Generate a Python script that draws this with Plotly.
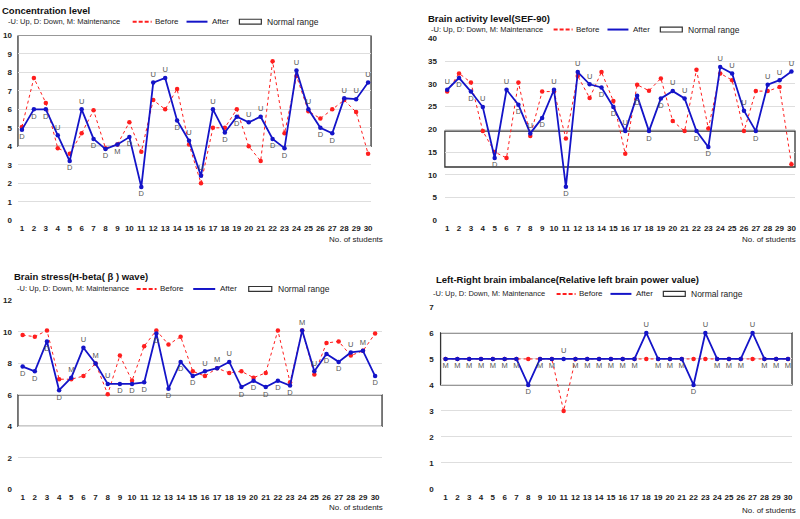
import plotly.graph_objects as go

W, H = 800, 519
students = list(range(1, 31))
student_labels = [str(s) for s in students]

# ---- Panel 1: Concentration level ----
conc_before = [5.05, 7.7, 6.35, 3.9, 3.6, 4.7, 5.95, 3.9, 4.1, 5.3, 3.7, 6.5, 6.0, 7.1, 4.1,
               2.0, 5.0, 5.0, 6.0, 4.0, 3.2, 8.6, 4.7, 7.8, 5.9, 5.5, 6.0, 6.5, 5.85, 3.6]
conc_after = [4.9, 6.0, 6.0, 4.6, 3.2, 6.0, 4.4, 3.85, 4.1, 4.5, 1.8, 7.45, 7.7, 5.4, 4.3,
              2.4, 6.0, 4.75, 5.6, 5.3, 5.6, 4.4, 3.9, 8.1, 6.0, 5.0, 4.7, 6.6, 6.55, 7.45]
conc_change = ["D", "D", "D", "U", "D", "U", "D", "D", "M", "D", "D", "U", "U", "D", "U",
               "U", "U", "D", "D", "U", "U", "D", "D", "U", "U", "D", "D", "U", "U", "U"]
conc_normal = [4, 10]

# ---- Panel 2: Brain activity level (SEF-90) ----
act_before = [28.3, 32.3, 30.3, 19.6, 15.0, 13.7, 30.3, 18.5, 28.3, 28.3, 18.0, 31.7, 26.9, 32.6, 26.2,
              14.6, 29.8, 28.5, 31.2, 21.8, 19.6, 33.1, 20.2, 32.3, 30.8, 19.6, 28.4, 28.4, 29.3, 12.3]
act_after = [28.7, 31.3, 28.3, 24.9, 13.7, 28.7, 25.4, 19.1, 22.5, 28.7, 7.35, 32.6, 29.9, 29.2, 24.9,
             19.6, 27.4, 19.6, 26.8, 28.4, 26.8, 19.6, 16.1, 33.7, 32.3, 24.1, 19.6, 29.8, 30.8, 32.7]
act_change = ["U", "D", "D", "U", "D", "U", "D", "U", "D", "U", "D", "U", "U", "D", "D",
              "U", "D", "D", "D", "U", "U", "D", "D", "U", "U", "U", "D", "U", "U", "U"]
act_normal = [11.7, 19.6]

# ---- Panel 3: Brain stress (H-beta) ----
stress_before = [9.8, 9.7, 10.1, 7.0, 7.0, 7.2, 8.0, 6.05, 8.5, 6.9, 9.1, 10.1, 9.2, 9.7, 7.5,
                 7.2, 7.7, 7.4, 7.5, 7.1, 7.4, 10.1, 6.8, 10.1, 7.3, 9.3, 9.4, 8.5, 8.8, 9.9]
stress_after = [7.8, 7.5, 9.4, 6.3, 7.1, 9.0, 8.0, 6.7, 6.7, 6.7, 6.8, 9.9, 6.4, 8.1, 7.2,
                7.5, 7.7, 8.1, 6.5, 6.9, 6.5, 6.9, 6.6, 10.1, 7.5, 8.6, 8.1, 8.7, 8.8, 7.2]
stress_change = ["D", "D", "D", "D", "M", "U", "M", "U", "D", "D", "D", "D", "D", "D", "D",
                 "U", "M", "U", "D", "D", "D", "D", "D", "M", "U", "D", "D", "U", "M", "D"]
stress_normal = [4, 6]

# ---- Panel 4: Left-right brain imbalance ----
lr_before = [5, 5, 5, 5, 5, 5, 5, 5, 5, 5, 3, 5, 5, 5, 5,
             5, 5, 5, 5, 5, 5, 5, 5, 5, 5, 5, 5, 5, 5, 5]
lr_after = [5, 5, 5, 5, 5, 5, 5, 4, 5, 5, 5, 5, 5, 5, 5,
            5, 5, 6, 5, 5, 5, 4, 6, 5, 5, 5, 6, 5, 5, 5]
lr_change = ["M", "M", "M", "M", "M", "M", "M", "D", "M", "M", "U", "M", "M", "M", "M",
             "M", "M", "U", "M", "M", "M", "D", "U", "M", "M", "M", "U", "M", "M", "M"]
lr_normal = [4, 6]

titles = ["Concentration level", "Brain activity level(SEF-90)",
          "Brain stress(H-beta( \u03b2 ) wave)",
          "Left-Right brain imbalance(Relative left brain power value)"]
subtitle = "-U: Up, D: Down, M: Maintenance"
xlabel = "No. of students"

FONT = "Liberation Sans, Arial, sans-serif"
RED = "#ff1e1e"
BLUE = "#1414c8"


def fx(px):
    return px / W


def fy(py):
    return 1 - py / H


panels = [
    dict(before=conc_before, after=conc_after, change=conc_change, normal=conc_normal,
         xd=(18, 372), yd=(220, 32), xr=(0.666, 30.25), yr=(0, 10), dtick=1, ys=5,
         title=(0, 7), sub=(6, 18), leg=(133, 18, 1.0), xl=(386, 240), mtop=False),
    dict(before=act_before, after=act_after, change=act_change, normal=act_normal,
         xd=(446, 797), yd=(220, 35), xr=(0.807, 30.3), yr=(0, 40), dtick=5, ys=7,
         title=(427, 15), sub=(430, 26), leg=(555, 26, 1.0), xl=(800, 240), mtop=False),
    dict(before=stress_before, after=stress_after, change=stress_change, normal=stress_normal,
         xd=(18, 383), yd=(494, 301.7), xr=(0.614, 30.57), yr=(0, 12), dtick=2, ys=5,
         title=(12, 277), sub=(15, 290), leg=(137, 290, 1.05), xl=(386, 512), mtop=True),
    dict(before=lr_before, after=lr_after, change=lr_change, normal=lr_normal,
         xd=(441.7, 794), yd=(493.5, 308.3), xr=(0.578, 30.34), yr=(0, 7), dtick=1, ys=6,
         title=(435, 280), sub=(432, 295), leg=(558, 295, 1.0), xl=(800, 515), mtop=False),
]

fig = go.Figure()
shapes = []
annotations = []
layout_axes = {}

for i, p in enumerate(panels):
    n = "" if i == 0 else str(i + 1)
    xref, yref = "x" + n, "y" + n
    pos = []
    for c in p["change"]:
        if c == "U":
            pos.append("top center")
        elif c == "M" and p["mtop"]:
            pos.append("top center")
        else:
            pos.append("bottom center")
    fig.add_trace(go.Scatter(
        x=students, y=p["before"], mode="lines+markers", xaxis=xref, yaxis=yref,
        line=dict(color=RED, width=1, dash="dot"), marker=dict(color=RED, size=4.5),
        showlegend=False, hoverinfo="skip"))
    fig.add_trace(go.Scatter(
        x=students, y=p["after"], mode="lines+markers+text", xaxis=xref, yaxis=yref,
        line=dict(color=BLUE, width=1.8), marker=dict(color=BLUE, size=4.5),
        text=p["change"], textposition=pos,
        textfont=dict(family=FONT, size=7.5, color="#555555"),
        showlegend=False, hoverinfo="skip"))

    layout_axes["xaxis" + n] = dict(
        domain=[fx(p["xd"][0]), fx(p["xd"][1])], range=list(p["xr"]), anchor=yref,
        tickmode="array", tickvals=students, ticktext=student_labels, tickangle=0,
        showgrid=False, zeroline=False, showline=False, ticks="", ticklabelstandoff=2,
        tickfont=dict(family=FONT, size=8, color="#222222", weight="bold"), fixedrange=True)
    layout_axes["yaxis" + n] = dict(
        domain=[fy(p["yd"][0]), fy(p["yd"][1])], range=list(p["yr"]), anchor=xref,
        dtick=p["dtick"], showgrid=True, gridcolor="#dedede", gridwidth=1.2,
        zeroline=False, showline=False, ticks="", ticklabelstandoff=p["ys"],
        tickfont=dict(family=FONT, size=8, color="#222222", weight="bold"), fixedrange=True)

    # normal range box
    shapes.append(dict(type="rect", xref=xref + " domain", yref=yref,
                       x0=0, x1=1, y0=p["normal"][0], y1=p["normal"][1],
                       line=dict(color="#333333", width=1.3),
                       fillcolor="rgba(0,0,0,0)", layer="below"))

    # title and subtitle
    tx, ty = p["title"]
    annotations.append(dict(xref="paper", yref="paper", x=fx(tx), y=fy(ty), xanchor="left",
                            yanchor="middle", showarrow=False, text="<b>" + titles[i] + "</b>",
                            font=dict(family=FONT, size=9.5, color="#111111")))
    sx, sy = p["sub"]
    annotations.append(dict(xref="paper", yref="paper", x=fx(sx), y=fy(sy), xanchor="left",
                            yanchor="middle", showarrow=False, text=subtitle,
                            font=dict(family=FONT, size=7.5, color="#222222")))
    # x axis title
    lx, ly = p["xl"]
    annotations.append(dict(xref="paper", yref="paper", x=fx(lx), y=fy(ly), xanchor="right",
                            yanchor="middle", showarrow=False, text=xlabel,
                            font=dict(family=FONT, size=8, color="#222222")))

    # legend: Before / After / Normal range
    gx, gy, k = p["leg"]
    shapes.append(dict(type="line", xref="paper", yref="paper", x0=fx(gx), x1=fx(gx + 19 * k),
                       y0=fy(gy), y1=fy(gy), line=dict(color=RED, width=2, dash="4px,2px")))
    annotations.append(dict(xref="paper", yref="paper", x=fx(gx + 20 * k), y=fy(gy), xanchor="left",
                            yanchor="middle", showarrow=False, text="Before",
                            font=dict(family=FONT, size=8, color="#222222")))
    shapes.append(dict(type="line", xref="paper", yref="paper", x0=fx(gx + 54 * k), x1=fx(gx + 75 * k),
                       y0=fy(gy), y1=fy(gy), line=dict(color=BLUE, width=2)))
    annotations.append(dict(xref="paper", yref="paper", x=fx(gx + 78 * k), y=fy(gy), xanchor="left",
                            yanchor="middle", showarrow=False, text="After",
                            font=dict(family=FONT, size=8, color="#222222")))
    shapes.append(dict(type="rect", xref="paper", yref="paper", x0=fx(gx + 107 * k), x1=fx(gx + 129 * k),
                       y0=fy(gy + 2.5), y1=fy(gy - 2.5), line=dict(color="#333333", width=1.2)))
    annotations.append(dict(xref="paper", yref="paper", x=fx(gx + 133 * k), y=fy(gy), xanchor="left",
                            yanchor="middle", showarrow=False, text="Normal range",
                            font=dict(family=FONT, size=8.5, color="#222222")))

fig.update_layout(
    width=W, height=H, margin=dict(l=0, r=0, t=0, b=0),
    paper_bgcolor="white", plot_bgcolor="white",
    shapes=shapes, annotations=annotations, showlegend=False,
    font=dict(family=FONT),
    **layout_axes)

fig.write_html("out.html", config={"displayModeBar": False},
               post_script="document.body.style.margin='0';")
